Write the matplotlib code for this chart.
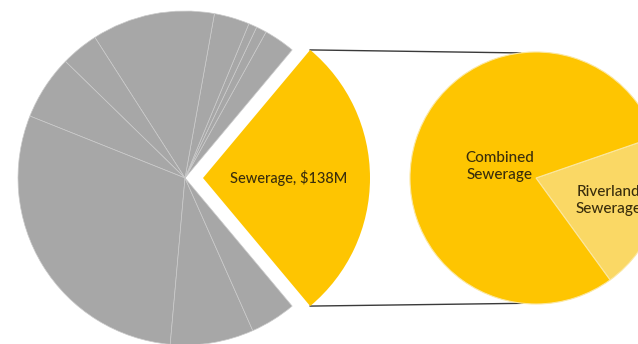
import numpy as np
import matplotlib
matplotlib.use("Agg")
import matplotlib.pyplot as plt

# Capital budget ($M): sewerage is pulled out, the rest stay grey
main_label = "Sewerage"
main_value = 138
other_values = [15, 5, 4, 17, 59, 18, 31, 147, 40, 22]

# Breakdown of the sewerage slice
sub_labels = ["Riverland\nSewerage", "Combined\nSewerage"]
sub_values = [28, 110]

gold = "#FEC501"
light_gold = "#FAD865"
grey = "#A7A7A7"
text_col = "#3A2E0C"

plt.rcParams['font.family'] = ['Lato', 'DejaVu Sans']

W, H = 638, 344
fig = plt.figure(figsize=(W / 100, H / 100), dpi=100)
ax = fig.add_axes([0, 0, 1, 1])

# left pie, sewerage wedge first so it sits centred on the right side
left_center = (185, H - 178)
left_r = 167
start = -180 * main_value / (main_value + sum(other_values))
wedges, _ = ax.pie([main_value] + other_values,
                   colors=[gold] + [grey] * len(other_values),
                   explode=[18] + [0] * len(other_values),
                   startangle=start, counterclock=True,
                   center=left_center, radius=left_r,
                   wedgeprops=dict(edgecolor="#CBCBCB", linewidth=0.5))
wedges[0].set_linewidth(0)

gw = wedges[0]
mid = np.radians((gw.theta1 + gw.theta2) / 2)
ax.text(gw.center[0] + 0.51 * gw.r * np.cos(mid),
        gw.center[1] + 0.51 * gw.r * np.sin(mid),
        f"{main_label}, ${main_value}M", ha="center", va="center",
        fontsize=10.5, color=text_col, fontweight="medium")

# right pie: the sewerage breakdown
right_center = (536, H - 178)
right_r = 126
sub_start = -54
sw, _ = ax.pie(sub_values, colors=[light_gold, gold],
               startangle=sub_start, counterclock=True,
               center=right_center, radius=right_r,
               wedgeprops=dict(edgecolor="#FBE7A0", linewidth=0.8))

for w, lab, dist in zip(sw, sub_labels, [0.60, 0.30]):
    m = np.radians((w.theta1 + w.theta2) / 2)
    ax.text(w.center[0] + dist * w.r * np.cos(m),
            w.center[1] + dist * w.r * np.sin(m),
            lab, ha="center", va="center", fontsize=11,
            color=text_col, linespacing=1.3, fontweight="medium")

# connector lines from the pulled-out wedge to the second pie
for th, th2 in [(gw.theta2, 97), (gw.theta1, -96)]:
    x0 = gw.center[0] + gw.r * np.cos(np.radians(th))
    y0 = gw.center[1] + gw.r * np.sin(np.radians(th))
    x1 = right_center[0] + right_r * np.cos(np.radians(th2))
    y1 = right_center[1] + right_r * np.sin(np.radians(th2))
    ax.plot([x0, x1], [y0, y1], color="#3A3A3A", linewidth=1.0, zorder=0)

ax.set_xlim(0, W)
ax.set_ylim(0, H)
ax.set_aspect("equal")
ax.axis("off")

fig.savefig("out.png", dpi=100, facecolor="white")
